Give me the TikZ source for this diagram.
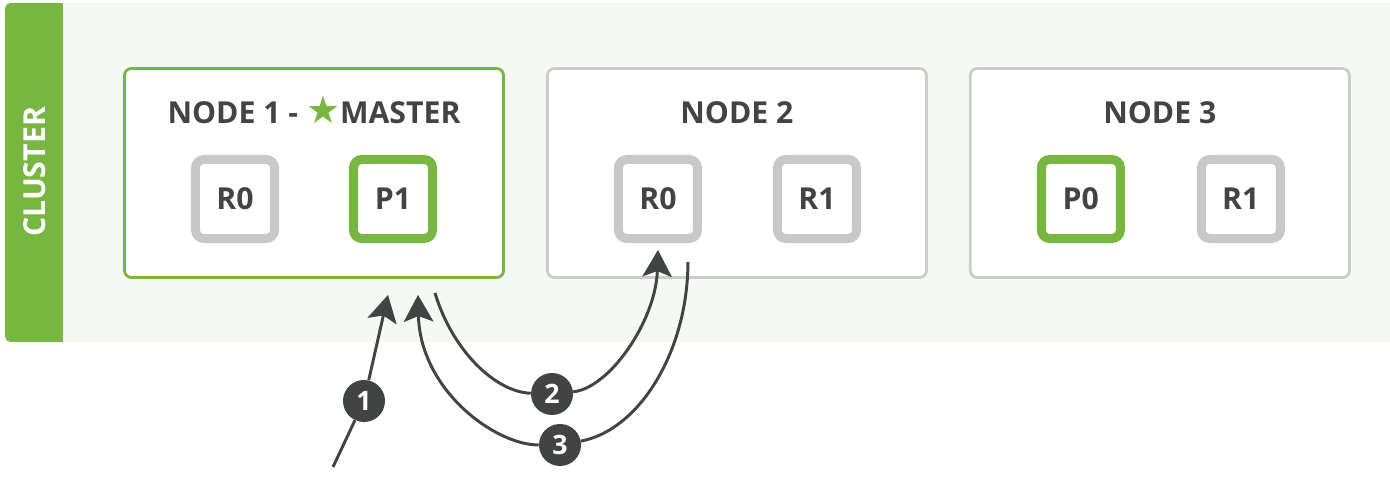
\documentclass[tikz,border=0pt]{standalone}
\usepackage{fontspec}
\setmainfont{Open Sans}
\newfontfamily\starfont{DejaVu Sans}
\usetikzlibrary{calc,positioning,arrows.meta}
\definecolor{esgreen}{RGB}{120,182,66}
\definecolor{boxgray}{RGB}{204,204,204}
\definecolor{shardgray}{RGB}{200,200,200}
\definecolor{panel}{RGB}{246,248,243}
\definecolor{ink}{RGB}{66,68,67}

\begin{document}
\begin{tikzpicture}[x=0.025cm, y=-0.025cm,
            font=\fontsize{21.5}{24}\selectfont\bfseries,
            server/.style = {draw=boxgray, line width=2pt, fill=white,
                rounded corners=5pt, minimum width=9.475cm, minimum height=5.225cm},
            master/.style = {server, draw=esgreen},
            shard/.style = {draw=shardgray, line width=6.4pt, fill=white, text=ink,
                rounded corners=6pt, minimum size=1.975cm, inner sep=0pt},
            primary/.style = {shard, draw=esgreen},
            title/.style = {anchor=base, text=ink},
            badge/.style = {circle, fill=ink, text=white, minimum size=1.05cm,
                inner sep=0pt, font=\fontsize{19}{20}\selectfont\bfseries},
            flow/.style = {draw=ink, line width=2.1pt,
                -{Stealth[length=19pt, width=21pt, inset=4pt]}}
            ]
            \useasboundingbox (0,0) rectangle (1390,478);
            % cluster background
            \fill[panel] (5,3) rectangle (1390,342);
            \fill[esgreen, rounded corners=4pt] (5,3) rectangle (63,342);
            \fill[esgreen] (40,3) rectangle (63,342);
            \node[rotate=90, text=white] (cluster) at (35,172) {CLUSTER};

            % nodes
            \node[master] (n1) at (314,173) {};
            \node[server, right=1.025cm of n1] (n2) {};
            \node[server, right=1.025cm of n2] (n3) {};

            \node[title] (t1) at ($(n1.north)+(0,56)$)
                {NODE 1 - \raisebox{-0.5pt}{\starfont\fontsize{27}{24}\selectfont\color{esgreen}★}MASTER};
            \node[title] (t2) at ($(n2.north)+(0,56)$) {NODE 2};
            \node[title] (t3) at ($(n3.north)+(0,56)$) {NODE 3};

            % shards
            \node[shard]   (n1r0) at ($(n1.center)+(-79,26)$) {R0};
            \node[primary] (n1p1) at ($(n1.center)+(79,26)$)  {P1};
            \node[shard]   (n2r0) at ($(n2.center)+(-79,26)$) {R0};
            \node[shard]   (n2r1) at ($(n2.center)+(80,26)$)  {R1};
            \node[primary] (n3p0) at ($(n3.center)+(-79,26)$) {P0};
            \node[shard]   (n3r1) at ($(n3.center)+(81,26)$)  {R1};

            % steps
            \node[badge] (s1) at (364,401) {1};
            \node[badge] (s2) at (552,394) {2};
            \node[badge] (s3) at (560,445) {3};
            \coordinate (client) at (333,467);

            \draw[flow] (client) -- (s1) -- ($(n1.south)+(74,16)$);
            \draw[flow] ($(n1.south)+(121,14)$) .. controls (452,350) and (495,392) .. (s2)
                .. controls (610,388) and (656,320) .. ($(n2r0.south)+(0,7)$);
            \draw[flow] ($(n2r0.south)+(30,19)$) .. controls (688,350) and (640,430) .. (s3)
                .. controls (495,445) and (420,390) .. ($(n1.south)+(104,16)$);
\end{tikzpicture}
\end{document}
